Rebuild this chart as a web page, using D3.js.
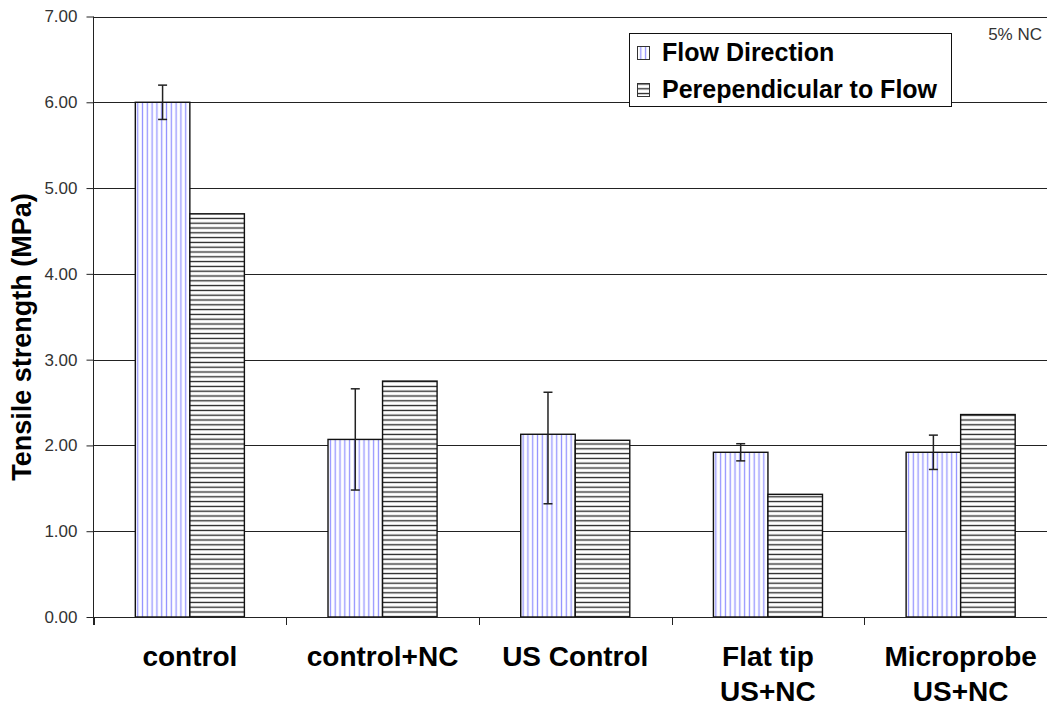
<!DOCTYPE html>
<html><head><meta charset="utf-8">
<script src="https://cdn.jsdelivr.net/npm/d3@7"></script>
<style>body{margin:0;background:#fff;overflow:hidden} svg{display:block;font-family:"Liberation Sans",Arial,sans-serif}</style>
</head><body><svg id="c" width="1047" height="707"></svg>
<script>
const categories = ["control", "control+NC", "US Control", "Flat tip\nUS+NC", "Microprobe\nUS+NC"];
const seriesNames = ["Flow Direction", "Perependicular to Flow"];
const flowValues = [6.00, 2.07, 2.13, 1.92, 1.92];
const perpValues = [4.70, 2.75, 2.06, 1.43, 2.36];
const flowErrPlus = [0.20, 0.59, 0.49, 0.10, 0.20];
const flowErrMinus = [0.20, 0.59, 0.81, 0.10, 0.20];
const yTicks = [0, 1, 2, 3, 4, 5, 6, 7];
const noteText = "5% NC";
const yTitle = "Tensile strength (MPa)";

(function () {
const svg = d3.select("#c");
const W = 1047, H = 707;
const pL = 93.5, pR = 1057, pT = 16.5, pB = 617;

const defs = svg.append("defs");
const pv = defs.append("pattern").attr("id", "pv").attr("patternUnits", "userSpaceOnUse")
  .attr("width", 4.8).attr("height", 10);
pv.append("rect").attr("width", 4.8).attr("height", 10).attr("fill", "#fff");
pv.append("line").attr("x1", 2.4).attr("x2", 2.4).attr("y1", 0).attr("y2", 10)
  .attr("stroke", "#9494ff").attr("stroke-width", 1.3);
const ph = defs.append("pattern").attr("id", "ph").attr("patternUnits", "userSpaceOnUse")
  .attr("width", 10).attr("height", 4.8);
ph.append("rect").attr("width", 10).attr("height", 4.8).attr("fill", "#fff");
ph.append("line").attr("x1", 0).attr("x2", 10).attr("y1", 2.4).attr("y2", 2.4)
  .attr("stroke", "#222").attr("stroke-width", 1.3);
const fills = ["url(#pv)", "url(#ph)"];

const y = d3.scaleLinear().domain([0, 7]).range([pB, pT]);
const x = d3.scaleBand().domain(categories).range([pL, pR]).paddingInner(0.434).paddingOuter(0.217);
const xs = d3.scaleBand().domain(seriesNames).range([0, x.bandwidth()]);
const step = x.step();

// gridlines
svg.append("g").selectAll("line").data(yTicks.filter(d => d > 0)).join("line")
  .attr("x1", pL).attr("x2", W).attr("y1", d => Math.round(y(d)) + 0.5).attr("y2", d => Math.round(y(d)) + 0.5)
  .attr("stroke", "#222").attr("stroke-width", 1);

// y axis
const yAxis = d3.axisLeft(y).tickValues(yTicks).tickFormat(d3.format(".2f")).tickSize(7).tickPadding(9);
const ga = svg.append("g").attr("transform", `translate(${pL},0)`).call(yAxis);
ga.select(".domain").remove();
ga.selectAll(".tick line").attr("stroke", "#222");
ga.selectAll(".tick text").attr("font-size", 17).attr("fill", "#333").attr("font-family", "Liberation Sans, Arial, sans-serif");
svg.append("line").attr("x1", pL).attr("x2", pL).attr("y1", pT).attr("y2", pB + 8).attr("stroke", "#222");

// bars
const data = categories.map((c, i) => ({ c, i, vals: [flowValues[i], perpValues[i]] }));
const groups = svg.append("g").selectAll("g").data(data).join("g")
  .attr("transform", d => `translate(${x(d.c)},0)`);
groups.selectAll("rect").data(d => d.vals.map((v, k) => ({ v, k, s: seriesNames[k] }))).join("rect")
  .attr("x", d => xs(d.s)).attr("width", xs.bandwidth())
  .attr("y", d => y(d.v)).attr("height", d => y(0) - y(d.v))
  .attr("fill", d => fills[d.k]).attr("stroke", "#111").attr("stroke-width", 1.4);

// error bars
const cx0 = xs(seriesNames[0]) + xs.bandwidth() / 2;
const eb = groups.append("g").attr("stroke", "#222").attr("stroke-width", 1.5);
eb.append("line").attr("x1", cx0).attr("x2", cx0)
  .attr("y1", d => y(flowValues[d.i] + flowErrPlus[d.i])).attr("y2", d => y(flowValues[d.i] - flowErrMinus[d.i]));
[[flowErrPlus, 1], [flowErrMinus, -1]].forEach(([arr, sgn]) => {
  eb.append("line").attr("x1", cx0 - 4.5).attr("x2", cx0 + 4.5)
    .attr("y1", d => y(flowValues[d.i] + sgn * arr[d.i])).attr("y2", d => y(flowValues[d.i] + sgn * arr[d.i]));
});

// x axis
svg.append("line").attr("x1", pL).attr("x2", W).attr("y1", pB + 0.5).attr("y2", pB + 0.5).attr("stroke", "#222");
svg.append("g").selectAll("line").data(d3.range(categories.length + 1)).join("line")
  .attr("x1", i => Math.round(pL + i * step) + 0.5).attr("x2", i => Math.round(pL + i * step) + 0.5)
  .attr("y1", pB).attr("y2", pB + 8).attr("stroke", "#222");
const xl = svg.append("g").selectAll("text").data(categories).join("text")
  .attr("y", 666)
  .attr("text-anchor", "middle").attr("font-size", 28).attr("font-weight", "bold").attr("fill", "#000");
xl.each(function (d) {
  d.split("\n").forEach((t, j) => {
    d3.select(this).append("tspan").attr("x", x(d) + x.bandwidth() / 2).attr("dy", j === 0 ? 0 : 35).text(t);
  });
});

// y title
svg.append("text").attr("transform", "translate(31,337) rotate(-90)").attr("text-anchor", "middle")
  .attr("font-size", 27).attr("font-weight", "bold").text(yTitle);

// note
svg.append("text").attr("x", 1042).attr("y", 40).attr("text-anchor", "end").attr("font-size", 17).attr("fill", "#333").text(noteText);

// legend
const lg = svg.append("g");
lg.append("rect").attr("x", 629.5).attr("y", 33.5).attr("width", 322).attr("height", 73).attr("fill", "#fff").attr("stroke", "#111");
seriesNames.forEach((s, k) => {
  const yy = 46 + k * 37;
  lg.append("rect").attr("x", 637.5).attr("y", yy + 0.5).attr("width", 12).attr("height", 13).attr("fill", fills[k]).attr("stroke", "#333");
  lg.append("text").attr("x", 662).attr("y", yy + 15).attr("font-size", 25).attr("font-weight", "bold").text(s);
});
})();
</script></body></html>
